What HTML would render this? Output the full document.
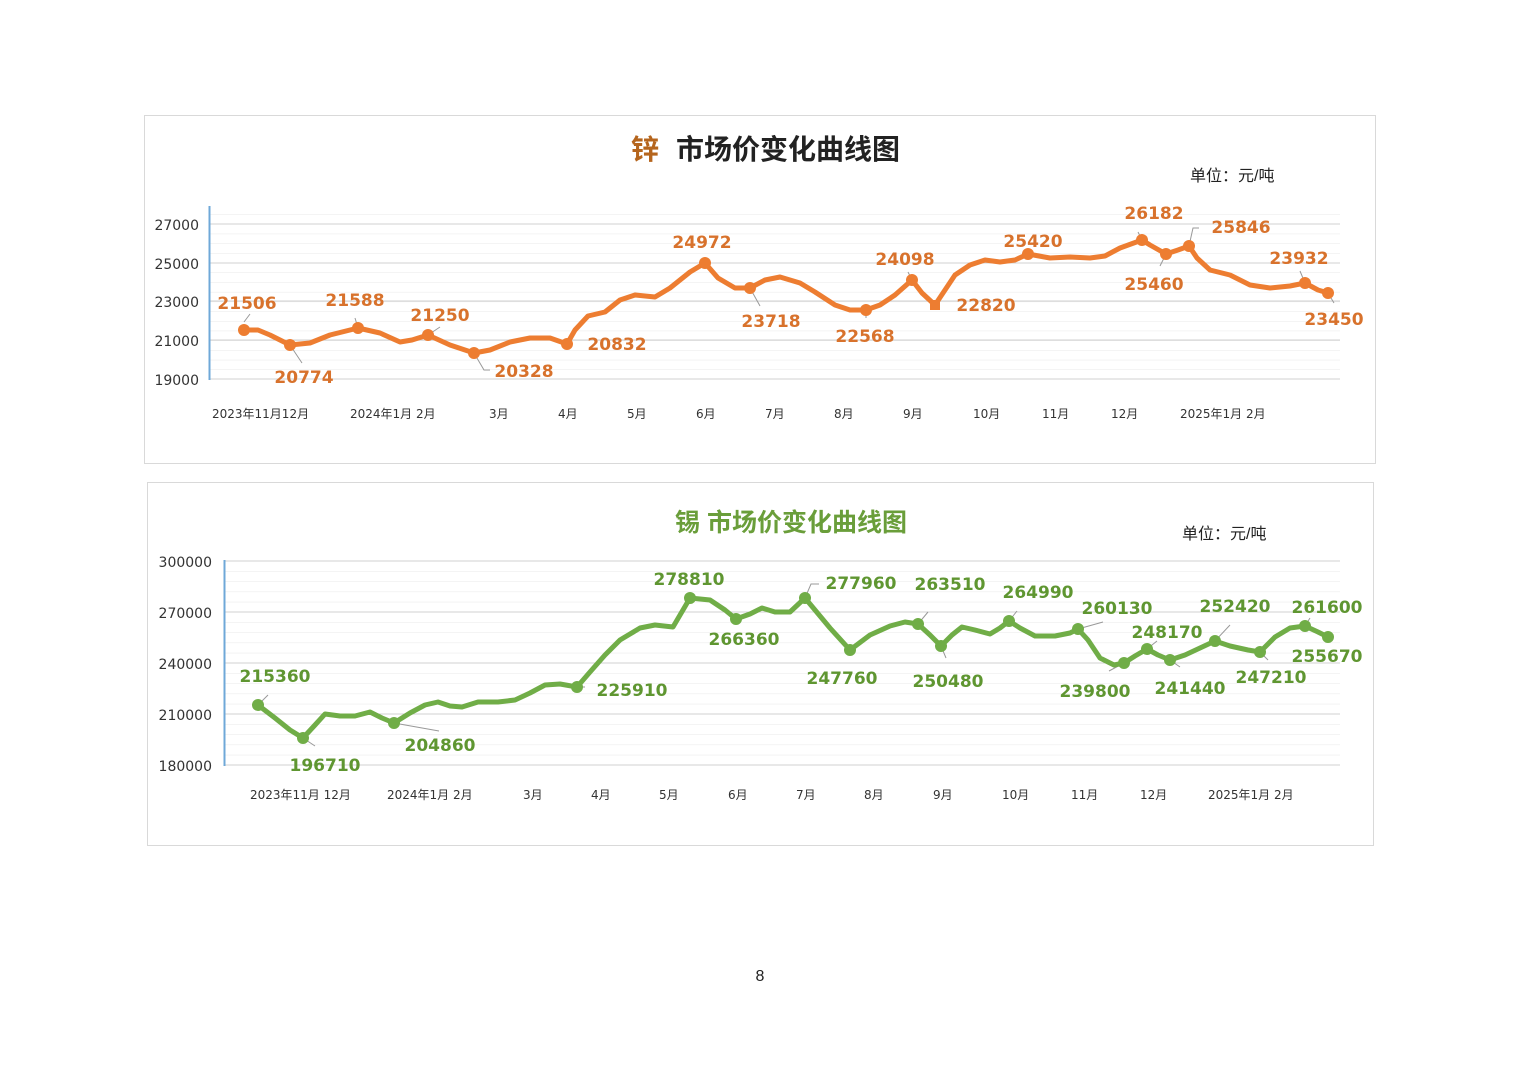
<!DOCTYPE html>
<html><head><meta charset="utf-8"><style>
body{margin:0;background:#fff;}
svg{display:block;font-family:"Liberation Sans","Noto Sans CJK SC",sans-serif;}
.zl{font-size:17px;font-weight:bold;fill:#d8722c;text-anchor:middle;font-family:"DejaVu Sans",sans-serif;}
.tl{font-size:17px;font-weight:bold;fill:#5f9631;text-anchor:middle;font-family:"DejaVu Sans",sans-serif;}
.ax{font-size:14px;fill:#333;text-anchor:end;font-family:"DejaVu Sans",sans-serif;}
.xl{font-size:12px;fill:#333;font-family:"DejaVu Sans","Noto Sans CJK SC",sans-serif;}
</style></head><body>
<svg width="1520" height="1074" viewBox="0 0 1520 1074">
<defs>
<pattern id="g1" x="0" y="224" width="10" height="9.7" patternUnits="userSpaceOnUse"><line x1="0" y1="0" x2="10" y2="0" stroke="#e8e8e8" stroke-width="1"/></pattern>
<pattern id="g2" x="0" y="561" width="10" height="10.2" patternUnits="userSpaceOnUse"><line x1="0" y1="0" x2="10" y2="0" stroke="#e8e8e8" stroke-width="1"/></pattern>
</defs>
<!-- Zinc chart -->
<rect x="144.5" y="115.5" width="1231" height="348" fill="#fff" stroke="#d9d9d9"/>
<rect x="210" y="210" width="1130" height="169" fill="url(#g1)"/>
<g stroke="#d0d0d0"><line x1="210" y1="224" x2="1340" y2="224"/><line x1="210" y1="263" x2="1340" y2="263"/><line x1="210" y1="301" x2="1340" y2="301"/><line x1="210" y1="340" x2="1340" y2="340"/><line x1="210" y1="379" x2="1340" y2="379"/></g>
<line x1="209.5" y1="206" x2="209.5" y2="380" stroke="#6fa8d8" stroke-width="2"/>
<text x="631" y="159" font-size="28" font-weight="bold" fill="#b5651d">锌</text>
<text x="676" y="159" font-size="28" font-weight="bold" fill="#222">市场价变化曲线图</text>
<text x="1190" y="181" font-size="16" fill="#222">单位：元/吨</text>
<g class="ax"><text x="199" y="230">27000</text><text x="199" y="269">25000</text><text x="199" y="307">23000</text><text x="199" y="346">21000</text><text x="199" y="385">19000</text></g>
<g class="xl"><text x="212" y="418">2023年11月12月</text><text x="350" y="418">2024年1月 2月</text><text x="489" y="418">3月</text><text x="558" y="418">4月</text><text x="627" y="418">5月</text><text x="696" y="418">6月</text><text x="765" y="418">7月</text><text x="834" y="418">8月</text><text x="903" y="418">9月</text><text x="973" y="418">10月</text><text x="1042" y="418">11月</text><text x="1111" y="418">12月</text><text x="1180" y="418">2025年1月 2月</text></g>
<g stroke="#999" fill="none"><path d="M244 322l6-8M290 345l12 18M358 328l-3-10M428 335l12-8M474 353l10 17h6M567 344h4M750 288l10 18M866 310v8M912 280l-4-8M1028 254v-4M1142 240l-4-8M1166 254l-6 12M1189 246l4-18h6M1305 283l-5-12M1328 293l6 10"/></g>
<polyline fill="none" stroke="#ed7d31" stroke-width="5" stroke-linejoin="round" stroke-linecap="round" points="244,330 258,330 270,335 290,345 310,343 330,335 358,328 380,333 400,342 412,340 428,335 450,345 474,353 490,350 510,342 530,338 550,338 567,344 575,330 588,316 605,312 620,300 635,295 655,297 670,288 690,272 705,263 718,278 735,288 750,288 765,280 780,277 800,283 815,292 835,305 850,310 866,310 880,305 895,295 912,280 922,293 935,305 945,290 955,275 970,265 985,260 1000,262 1015,260 1028,254 1050,258 1070,257 1090,258 1105,256 1120,248 1142,240 1150,245 1166,254 1178,250 1189,246 1197,258 1210,270 1230,275 1250,285 1270,288 1290,286 1305,283 1318,290 1328,293"/>
<g fill="#ed7d31"><circle cx="244" cy="330" r="6"/><circle cx="290" cy="345" r="6"/><circle cx="358" cy="328" r="6"/><circle cx="428" cy="335" r="6"/><circle cx="474" cy="353" r="6"/><circle cx="567" cy="344" r="6"/><circle cx="705" cy="263" r="6"/><circle cx="750" cy="288" r="6"/><circle cx="866" cy="310" r="6"/><circle cx="912" cy="280" r="6"/><rect x="930" y="300" width="10" height="10"/><circle cx="1028" cy="254" r="6"/><circle cx="1142" cy="240" r="6"/><circle cx="1166" cy="254" r="6"/><circle cx="1189" cy="246" r="6"/><circle cx="1305" cy="283" r="6"/><circle cx="1328" cy="293" r="6"/></g>
<g class="zl"><text x="247" y="309">21506</text><text x="304" y="383">20774</text><text x="355" y="306">21588</text><text x="440" y="321">21250</text><text x="524" y="377">20328</text><text x="617" y="350">20832</text><text x="702" y="248">24972</text><text x="771" y="327">23718</text><text x="865" y="342">22568</text><text x="905" y="265">24098</text><text x="986" y="311">22820</text><text x="1033" y="247">25420</text><text x="1154" y="219">26182</text><text x="1154" y="290">25460</text><text x="1241" y="233">25846</text><text x="1299" y="264">23932</text><text x="1334" y="325">23450</text></g>

<!-- Tin chart -->
<rect x="147.5" y="482.5" width="1226" height="363" fill="#fff" stroke="#d9d9d9"/>
<rect x="225" y="561" width="1115" height="204" fill="url(#g2)"/>
<g stroke="#d0d0d0"><line x1="225" y1="561" x2="1340" y2="561"/><line x1="225" y1="612" x2="1340" y2="612"/><line x1="225" y1="663" x2="1340" y2="663"/><line x1="225" y1="714" x2="1340" y2="714"/><line x1="225" y1="765" x2="1340" y2="765"/></g>
<line x1="224.5" y1="560" x2="224.5" y2="766" stroke="#6fa8d8" stroke-width="2"/>
<text x="791" y="531" font-size="25" font-weight="bold" fill="#6a9e3a" text-anchor="middle">锡  市场价变化曲线图</text>
<text x="1182" y="539" font-size="16" fill="#222">单位：元/吨</text>
<g class="ax"><text x="212" y="567">300000</text><text x="212" y="618">270000</text><text x="212" y="669">240000</text><text x="212" y="720">210000</text><text x="212" y="771">180000</text></g>
<g class="xl" font-size="11"><text x="250" y="799">2023年11月  12月</text><text x="387" y="799">2024年1月    2月</text><text x="523" y="799">3月</text><text x="591" y="799">4月</text><text x="659" y="799">5月</text><text x="728" y="799">6月</text><text x="796" y="799">7月</text><text x="864" y="799">8月</text><text x="933" y="799">9月</text><text x="1002" y="799">10月</text><text x="1071" y="799">11月</text><text x="1140" y="799">12月</text><text x="1208" y="799">2025年1月    2月</text></g>
<g stroke="#999" fill="none"><path d="M258 705l10-10M303 738l12 8M394 723l45 8M577 687h8M805 598l6-14h8M918 624l10-12M941 646l5 12M1009 621l8-10M1078 629l25-7M1124 663l-15 8M1147 649l10-8M1170 660l10 7M1215 641l15-16M1260 652l8 8M1305 626l5-8"/></g>
<polyline fill="none" stroke="#70ad47" stroke-width="5" stroke-linejoin="round" stroke-linecap="round" points="258,705 275,718 290,730 303,738 315,725 325,714 340,716 355,716 370,712 382,718 394,723 410,713 425,705 438,702 450,706 462,707 478,702 498,702 515,700 530,693 545,685 560,684 577,687 590,672 605,655 620,640 640,628 655,625 673,627 690,598 710,600 725,610 736,619 750,614 762,608 775,612 790,612 805,598 815,610 830,628 850,650 870,635 890,626 905,622 918,624 930,635 941,646 952,635 962,627 975,630 990,634 1000,628 1009,621 1020,628 1035,636 1055,636 1070,633 1078,629 1088,640 1100,658 1114,665 1124,663 1135,656 1147,649 1158,655 1170,660 1185,655 1200,648 1215,641 1230,646 1248,650 1260,652 1275,637 1290,628 1305,626 1318,632 1328,637"/>
<g fill="#70ad47"><circle cx="258" cy="705" r="6"/><circle cx="303" cy="738" r="6"/><circle cx="394" cy="723" r="6"/><circle cx="577" cy="687" r="6"/><circle cx="690" cy="598" r="6"/><circle cx="736" cy="619" r="6"/><circle cx="805" cy="598" r="6"/><circle cx="850" cy="650" r="6"/><circle cx="918" cy="624" r="6"/><circle cx="941" cy="646" r="6"/><circle cx="1009" cy="621" r="6"/><circle cx="1078" cy="629" r="6"/><circle cx="1124" cy="663" r="6"/><circle cx="1147" cy="649" r="6"/><circle cx="1170" cy="660" r="6"/><circle cx="1215" cy="641" r="6"/><circle cx="1260" cy="652" r="6"/><circle cx="1305" cy="626" r="6"/><circle cx="1328" cy="637" r="6"/></g>
<g class="tl"><text x="275" y="682">215360</text><text x="325" y="771">196710</text><text x="440" y="751">204860</text><text x="632" y="696">225910</text><text x="689" y="585">278810</text><text x="744" y="645">266360</text><text x="861" y="589">277960</text><text x="842" y="684">247760</text><text x="950" y="590">263510</text><text x="948" y="687">250480</text><text x="1038" y="598">264990</text><text x="1117" y="614">260130</text><text x="1095" y="697">239800</text><text x="1167" y="638">248170</text><text x="1190" y="694">241440</text><text x="1235" y="612">252420</text><text x="1271" y="683">247210</text><text x="1327" y="613">261600</text><text x="1327" y="662">255670</text></g>

<text x="760" y="981" font-size="16" fill="#222" text-anchor="middle">8</text>
</svg>
</body></html>
